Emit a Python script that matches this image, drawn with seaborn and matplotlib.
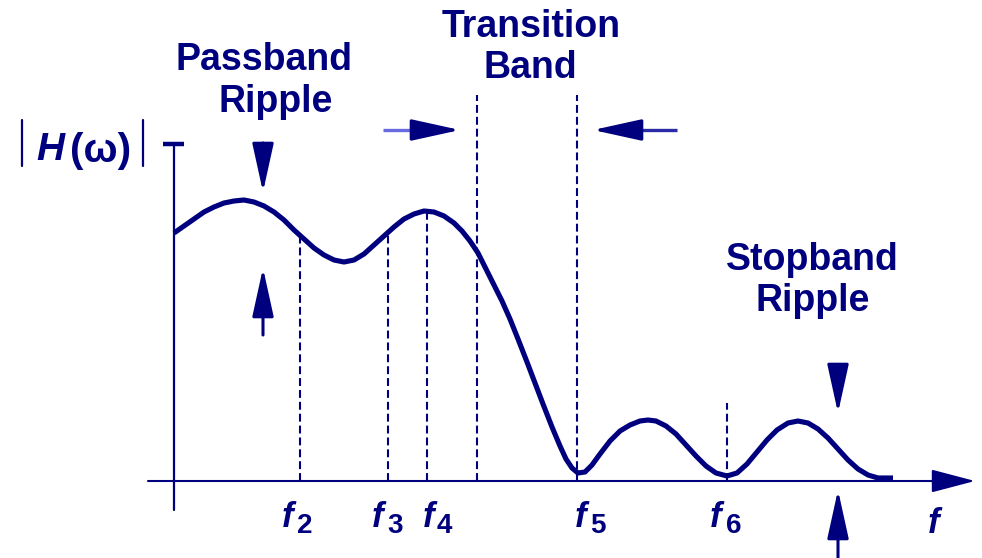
import matplotlib
matplotlib.use("Agg")
import numpy as np
import pandas as pd
import seaborn as sns
import matplotlib.pyplot as plt

# ---------------- data (frequency units / magnitude units) ----------------
curve_f = [0, 10, 20, 30, 40, 50, 60, 70, 80, 90, 100, 110, 120, 130, 140, 150,
           160, 170, 180, 190, 200, 210, 220, 230, 240, 250, 260, 270, 280, 288,
           296, 304, 311, 319, 328, 336, 344, 353, 361, 369, 378, 386, 392, 398,
           404, 411, 418, 426, 436, 446, 456, 466, 474, 482, 492, 502, 512, 522,
           532, 542, 553, 563, 573, 583, 593, 603, 614, 624, 634, 644, 654, 664,
           674, 684, 694, 704, 719]
curve_H = [248, 255, 262, 269, 274, 278, 280, 281, 279, 275, 269, 261, 251, 242, 233, 226,
           221, 219, 221, 227, 236, 245, 254, 262, 267, 270, 269, 265, 258, 250,
           240, 228, 214, 198, 180, 162, 142, 119, 98, 77, 54, 35, 22, 13,
           8, 9, 16, 27, 40, 50, 56, 60, 61, 60, 55, 47, 36, 25,
           15, 8, 5, 8, 17, 29, 41, 51, 58, 60, 58, 52, 43, 32,
           21, 12, 6, 3, 3]

mark_f = [126, 214, 253, 303, 403, 553]          # dashed guide positions
mark_top = [246, 248, 270, 386, 386, 78]         # heights of dashed guides
freq_labels = ["2", "3", "4", "", "5", "6"]      # subscripts of f labels

NAVY = "#00007f"

sns.set_theme(style="white")
plt.rcParams["font.family"] = ["Liberation Sans", "DejaVu Sans"]

fig = plt.figure(figsize=(9.82, 5.58), dpi=100)
ax = fig.add_axes([0, 0, 1, 1])
X0, Y0 = 174, 481


def P(px, py):
    return (px - X0, Y0 - py)


# axes
ax.annotate("", xy=P(975, 481), xytext=P(148, 481),
            arrowprops=dict(arrowstyle="-|>,head_length=1.37,head_width=0.36",
                            mutation_scale=20, lw=1.5, color=NAVY,
                            shrinkA=0, shrinkB=0))
ax.plot([P(174, 145)[0], P(174, 510)[0]], [P(174, 145)[1], P(174, 510)[1]],
        color=NAVY, lw=1.6)
ax.plot([P(163, 144)[0], P(184, 144)[0]], [P(163, 144)[1], P(184, 144)[1]],
        color=NAVY, lw=3.2, solid_capstyle="butt")

# dashed guides
for f, top in zip(mark_f, mark_top):
    ax.plot([f, f], [0, top], color=NAVY, lw=1.5, linestyle=(0, (3.8, 1.9)))

# curve
df = pd.DataFrame({"f": curve_f, "H": curve_H})
sns.lineplot(data=df, x="f", y="H", sort=False, estimator=None, color=NAVY,
             lw=3.7, ax=ax, legend=False)
ax.lines[-1].set_solid_joinstyle("round")
ax.lines[-1].set_solid_capstyle("butt")
ax.axis("off")
ax.set_xlim(-X0, 982 - X0)
ax.set_ylim(Y0 - 558, Y0)

# f labels
f_left = [282, 372, 423, None, 575, 710]
d_left = [297, 387, 437, None, 590, 726]
for fl, dl, sub in zip(f_left, d_left, freq_labels):
    if not sub:
        continue
    ax.text(*P(fl, 527), "f", fontsize=25, fontweight="bold", fontstyle="italic",
            color=NAVY, ha="left", va="baseline")
    ax.text(*P(dl, 533), sub, fontsize=20, fontweight="bold",
            color=NAVY, ha="left", va="baseline")
ax.text(*P(928, 533), "f", fontsize=25, fontweight="bold", fontstyle="italic",
        color=NAVY, ha="left", va="baseline")

# |H(w)|
for bx in (22, 143):
    ax.plot([P(bx, 120)[0]] * 2, [P(bx, 120)[1], P(bx, 166)[1]], color=NAVY, lw=1.6)
ax.text(*P(36, 160), "H", fontsize=28, fontweight="bold", fontstyle="italic",
        color=NAVY, ha="left", va="baseline")
ax.text(*P(70, 162), "(ω)", fontsize=29, fontweight="bold",
        color=NAVY, ha="left", va="baseline")

# titles
tk = dict(fontsize=27, fontweight="bold", color=NAVY, ha="center", va="baseline")
ax.text(*P(264, 70), "Passband", **tk)
ax.text(*P(276, 112), "Ripple", **tk)
ax.text(*P(531, 37), "Transition", **tk)
ax.text(*P(530, 78), "Band", **tk)
ax.text(*P(812, 270), "Stopband", **tk)
ax.text(*P(813, 311), "Ripple", **tk)


# arrows
def arrow(tail, tip):
    ax.annotate("", xy=P(*tip), xytext=P(*tail),
                arrowprops=dict(arrowstyle="-|>,head_length=1.5,head_width=0.33",
                                mutation_scale=20, lw=2.2, color=NAVY,
                                shrinkA=0, shrinkB=0))


arrow((263, 143), (263, 192))
arrow((263, 335), (263, 268))
arrow((838, 370), (838, 413))
arrow((838, 558), (838, 490))
# transition arrows with lighter shafts
ax.plot([P(383, 130)[0], P(422, 130)[0]], [P(383, 130)[1]] * 2,
        color="#6a6ae0", lw=2.4, solid_capstyle="butt")
arrow((421, 130), (460, 130))
ax.plot([P(630, 130)[0], P(677, 130)[0]], [P(630, 130)[1]] * 2,
        color="#2a2aa8", lw=2.4, solid_capstyle="butt")
arrow((631, 130), (593, 130))

fig.savefig("out.png", dpi=100)
